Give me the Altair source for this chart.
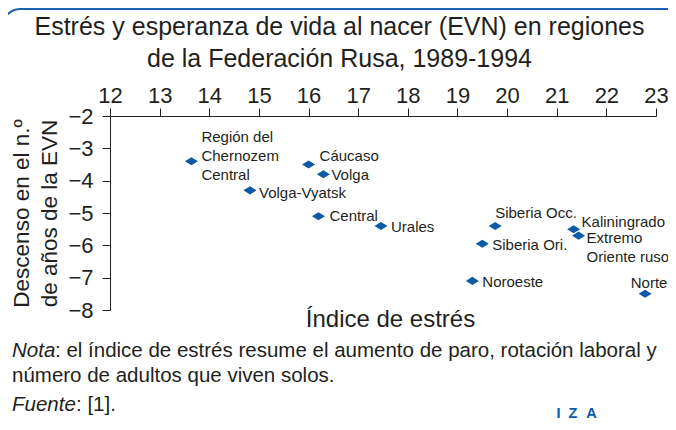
import altair as alt
import pandas as pd

# ---- data ----
regions = ["Región del Chernozem Central", "Volga-Vyatsk", "Cáucaso", "Volga",
           "Central", "Urales", "Siberia Occ.", "Siberia Ori.", "Noroeste",
           "Kaliningrado", "Extremo Oriente ruso", "Norte"]
stress_index = [13.64, 14.82, 16.0, 16.3, 16.2, 17.46, 19.76, 19.5, 19.3, 21.34, 21.44, 22.78]
evn_drop = [-3.4, -4.3, -3.5, -3.8, -5.1, -5.4, -5.4, -5.95, -7.1, -5.5, -5.7, -7.5]
label_text = ["Región del\nChernozem\nCentral", "Volga-Vyatsk", "Cáucaso", "Volga",
              "Central", "Urales", "Siberia Occ.", "Siberia Ori.", "Noroeste",
              "Kaliningrado", "Extremo\nOriente ruso", "Norte"]
x_ticks = list(range(12, 24))
y_ticks = [-2, -3, -4, -5, -6, -7, -8]
title_lines = ["Estrés y esperanza de vida al nacer (EVN) en regiones",
               "de la Federación Rusa, 1989-1994"]

# label placement (dx, dy to baseline, align)
placement = {
    "Región del Chernozem Central": (10, -19, "left"),
    "Volga-Vyatsk": (9, 8, "left"),
    "Cáucaso": (11, -4, "left"),
    "Volga": (8, 6, "left"),
    "Central": (11, 5, "left"),
    "Urales": (10, 6, "left"),
    "Siberia Occ.": (0, -8, "left"),
    "Siberia Ori.": (10, 6, "left"),
    "Noroeste": (10, 6, "left"),
    "Kaliningrado": (8, -2, "left"),
    "Extremo Oriente ruso": (8, 7, "left"),
    "Norte": (4, -6, "center"),
}

df = pd.DataFrame({"region": regions, "stress": stress_index, "evn": evn_drop, "label": label_text})

FONT = "Liberation Sans"
TXT = "#231f20"
BLUE = "#0b5aa6"
W, H = 546, 194

xscale = alt.Scale(domain=[12, 23], nice=False, zero=False)
yscale = alt.Scale(domain=[-8, -2], nice=False, zero=False)

top_axis = alt.Axis(orient="top", values=x_ticks, tickSize=8, labelPadding=1, labelFontSize=22,
                    labelFont=FONT, labelColor=TXT, domainColor=TXT, tickColor=TXT, grid=False,
                    title=None, labelFlush=False, labelOverlap=False)
left_axis = alt.Axis(orient="left", values=y_ticks, tickSize=8, labelPadding=9, labelFontSize=22,
                     labelFont=FONT, labelColor=TXT, domainColor=TXT, tickColor=TXT, grid=False,
                     title=["Descenso en el n.º", "de años de la EVN"], titleFont=FONT,
                     titleFontSize=22.5, titleFontWeight="normal", titleColor=TXT,
                     titlePadding=6, titleLineHeight=28, labelFlush=False)
bottom_axis = alt.Axis(orient="bottom", domain=False, ticks=False, labels=False, grid=False,
                       title="Índice de estrés", titleFont=FONT, titleFontSize=24,
                       titleFontWeight="normal", titleColor=TXT, titlePadding=-3,
                       titleX=W / 2 + 7)

points = alt.Chart(df).mark_point(
    shape="M-1,0L0,-0.62L1,0L0,0.62Z", filled=True, size=169, color=BLUE, opacity=1
).encode(
    x=alt.X("stress:Q", scale=xscale, axis=top_axis),
    y=alt.Y("evn:Q", scale=yscale, axis=left_axis),
)

axis_title_layer = alt.Chart(df).mark_point(opacity=0).encode(
    x=alt.X("stress:Q", scale=xscale, axis=bottom_axis),
    y=alt.Y("evn:Q", scale=yscale, axis=None),
)

label_layers = []
for reg in regions:
    dx, dy, al = placement[reg]
    label_layers.append(
        alt.Chart(df).transform_filter(alt.datum.region == reg).mark_text(
            align=al, baseline="alphabetic", dx=dx, dy=dy, fontSize=15, font=FONT,
            color=TXT, lineBreak="\n", lineHeight=19
        ).encode(
            x=alt.X("stress:Q", scale=xscale, axis=None),
            y=alt.Y("evn:Q", scale=yscale, axis=None),
            text="label:N",
        )
    )

one = alt.Data(values=[{"k": 1}])

def note(text, x, y, size=20.5, style="normal", color=TXT, weight="normal", align="left"):
    kw = dict(align=align, baseline="alphabetic", fontSize=size, font=FONT, color=color,
              fontStyle=style, fontWeight=weight)
    return alt.Chart(one).mark_text(**kw).encode(
        x=alt.value(x), y=alt.value(y), text=alt.value(text))

notes = [
    note(title_lines[0], 229.5, -81, size=25, align="center"),
    note(title_lines[1], 229.5, -49, size=25, align="center"),
    note("Nota", -98, 241, style="italic"),
    note(": el índice de estrés resume el aumento de paro, rotación laboral y", -55, 241),
    note("número de adultos que viven solos.", -98, 266),
    note("Fuente", -98, 295, style="italic"),
    note(": [1].", -34, 295),
    note("I", 448.5, 302, size=14.5, color=BLUE, weight="bold", align="center"),
    note("Z", 463, 302, size=14.5, color=BLUE, weight="bold", align="center"),
    note("A", 481.5, 302, size=14.5, color=BLUE, weight="bold", align="center"),
]

frame = alt.Chart(one).mark_rect(
    fillOpacity=0, stroke="#1a63b0", strokeWidth=2, cornerRadius=20
).encode(x=alt.value(-109), x2=alt.value(720), y=alt.value(-107), y2=alt.value(420))

chart = alt.layer(frame, points, axis_title_layer, *label_layers, *notes).resolve_axis(
    x="independent", y="independent"
).properties(
    width=W, height=H,
    autosize=alt.AutoSizeParams(type="none"),
    padding={"left": 102, "top": 108, "right": 12, "bottom": 112},
).configure_view(stroke=None)

chart.save("out.html", embed_options={"renderer": "svg", "actions": False})
